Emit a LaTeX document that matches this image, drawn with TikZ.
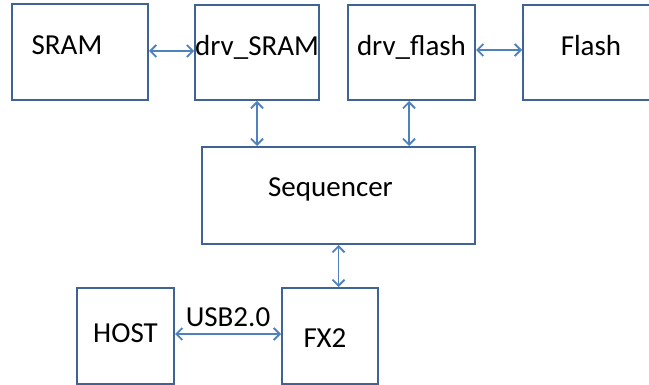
\documentclass[tikz,border=0pt]{standalone}
\usepackage{fontspec}
\setmainfont{Carlito}
\usepackage{xcolor}
\definecolor{blk-border}{HTML}{3F6393}
\definecolor{blk-arrow}{HTML}{4F81BD}
\usetikzlibrary{arrows.meta,positioning}

\begin{document}
\begin{tikzpicture}[x=0.5pt, y=-0.5pt,
  blk/.style={rectangle, draw=blk-border, line width=1pt, inner sep=0pt,
              minimum width=#1, minimum height=47.5pt,
              text height=10pt, text depth=7pt, font=\fontsize{14.5}{17}\selectfont},
  blk/.default=61pt,
  arr/.style={{Straight Barb[length=3pt,width=6pt]}-{Straight Barb[length=3pt,width=6pt]},
              line width=0.9pt, blk-arrow}]

  \useasboundingbox (0,0) rectangle (649,385);

  % memory row
  \node[blk=68pt, minimum height=48pt] (sram) at (80,52) {SRAM\hspace*{13pt}};
  \node[blk=61pt] (drvsram) at (257,52.5) {drv\_SRAM};
  \node[blk=63.5pt] (drvflash) at (411.5,52.5) {drv\_flash};
  \node[blk=68pt] (flash) at (591,52.5) {Flash};

  % control
  \node[blk=136.5pt, minimum height=48.5pt, text depth=8.5pt] (seq) at (338.5,195.5) {Sequencer\hspace*{8pt}};

  % usb side
  \node[blk=48.5pt, minimum height=48pt, text depth=3pt] (host) at (125.5,336) {HOST};
  \node[blk=48pt, minimum height=48pt, text height=13pt, text depth=1pt] (fx2) at (330,336) {FX2\hspace*{5pt}};

  \draw[arr] (sram.east |- 0,51) -- (drvsram.west |- 0,51);
  \draw[arr] (drvflash.east |- 0,50) -- (flash.west |- 0,50);
  \draw[arr] (drvsram.south) -- (drvsram.south |- seq.north);
  \draw[arr] (drvflash.south -| 409,0) -- (seq.north -| 409,0);
  \draw[arr] (seq.south) -- (seq.south |- fx2.north);
  \draw[arr] (host.east |- 0,334) -- node[above, inner sep=3pt, text=black, font=\fontsize{14.5}{17}\selectfont]{USB2.0} (fx2.west |- 0,334);

\end{tikzpicture}
\end{document}
